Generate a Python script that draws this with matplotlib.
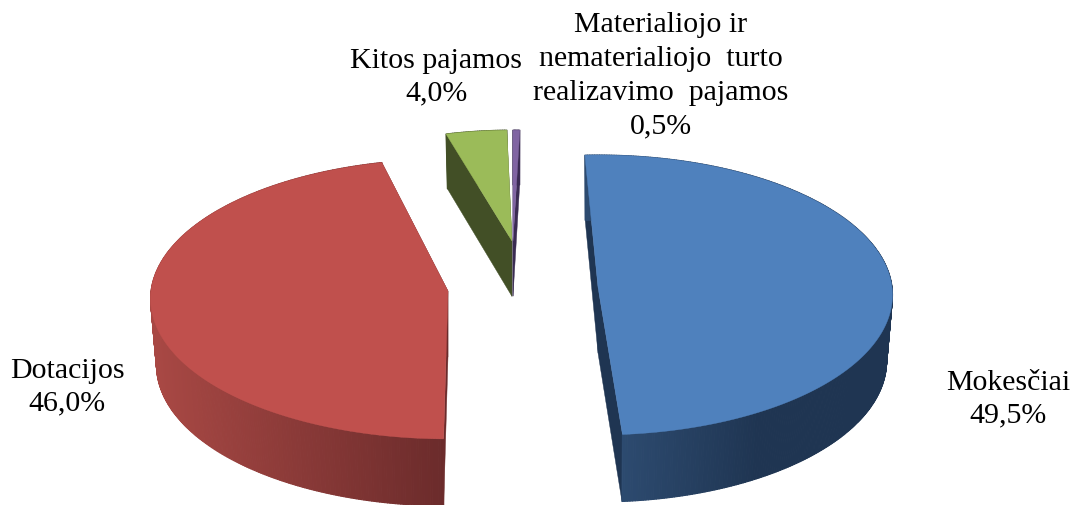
import numpy as np
import matplotlib
matplotlib.use("Agg")
import matplotlib.pyplot as plt
from matplotlib.collections import PolyCollection
from matplotlib.colors import to_rgb

# data
categories = ["Mokesčiai", "Dotacijos", "Kitos pajamos",
              "Materialiojo ir\nnematerialiojo  turto\nrealizavimo  pajamos"]
shares = [49.5, 46.0, 4.0, 0.5]
share_labels = ["49,5%", "46,0%", "4,0%", "0,5%"]

# styles
top_colors = ["#4F81BD", "#C0504D", "#9BBB59", "#8064A2"]
wall_left = ["#2D4B70", "#A84844", "#424F26", "#3A2B52"]
wall_right = ["#1F3552", "#6B2B2B", "#424F26", "#3A2B52"]
wall_span = [(620, 760), (155, 447), (440, 515), (510, 525)]

# layout of the projected pie
CENTER = (522.0, 292.0)
RX, RY, DEPTH, PERSP, BOTTOM = 294.0, 139.5, 66.0, 0.057, 0.98
START = -2.4
offset_x = [76, -74, -10, -9]
offset_y = [-4, 0, -50, -50]
scale_x = [1.0, 1.01, 0.88, 0.78]
scale_y = [1.0, 1.0, 0.84, 0.84]
nudge = [-0.3, 5.0, 3.0, 4.2]

label_x = [1008, 67, 436, 661]
label_y = [399, 387, 77, 76]
label_spacing = [1.3, 1.3, 1.3, 1.39]

fig = plt.figure(figsize=(10.72, 5.06), dpi=100)
ax = fig.add_axes([0, 0, 1, 1])
ax.set_xlim(0, 1072)
ax.set_ylim(506, 0)
ax.axis("off")


def project(i, a, r=1.0, z=0.0):
    rad = np.radians(a)
    x, y = r * np.sin(rad), r * np.cos(rad)
    f = 1 / (1 + PERSP * y)
    b = BOTTOM if z else 1.0
    sx = CENTER[0] + offset_x[i] + RX * scale_x[i] * x * f * b
    sy = CENTER[1] + offset_y[i] - RY * scale_y[i] * y * f * b + z * DEPTH * scale_y[i] * f
    return np.column_stack([np.broadcast_to(sx, np.shape(a)), np.broadcast_to(sy, np.shape(a))])


sweeps = 360 * np.array(shares) / np.sum(shares)
starts = START + np.concatenate([[0], np.cumsum(sweeps)[:-1]])
order = [2, 3, 1, 0]
for i in order:
    a0 = starts[i] + nudge[i]
    a1 = a0 + sweeps[i]
    ang = np.linspace(a0, a1, max(int(sweeps[i] * 2), 6))
    top = project(i, ang)
    bot = project(i, ang, z=1.0)
    apex_t = project(i, np.array([0.0]), r=0.0)
    apex_b = project(i, np.array([0.0]), r=0.0, z=1.0)
    face = to_rgb(wall_right[i])
    for rim_t, rim_b in ((top[0], bot[0]), (top[-1], bot[-1])):
        ax.fill([apex_t[0, 0], rim_t[0], rim_b[0], apex_b[0, 0]],
                [apex_t[0, 1], rim_t[1], rim_b[1], apex_b[0, 1]],
                color=face, lw=0.3, zorder=1)
    quads = [[top[k], top[k + 1], bot[k + 1], bot[k]] for k in range(len(ang) - 1)]
    mids = top[:-1, 0]
    t = np.clip((mids - wall_span[i][0]) / (wall_span[i][1] - wall_span[i][0]), 0, 1)[:, None]
    cols = (1 - t) * np.array(to_rgb(wall_left[i])) + t * np.array(to_rgb(wall_right[i]))
    ax.add_collection(PolyCollection(quads, facecolors=cols, edgecolors=cols, linewidths=0.8, zorder=1))
    outline = np.vstack([apex_t, top])
    ax.fill(outline[:, 0], outline[:, 1], color=top_colors[i], lw=0.3, zorder=1)

font = ["Liberation Serif", "DejaVu Serif"]
for i, (c, s) in enumerate(zip(categories, share_labels)):
    ax.text(label_x[i], label_y[i], f"{c}\n{s}", ha="center", va="center",
            ma="center", family=font, fontsize=21.5, color="black",
            linespacing=label_spacing[i], zorder=5)

fig.savefig("out.png", dpi=100)
